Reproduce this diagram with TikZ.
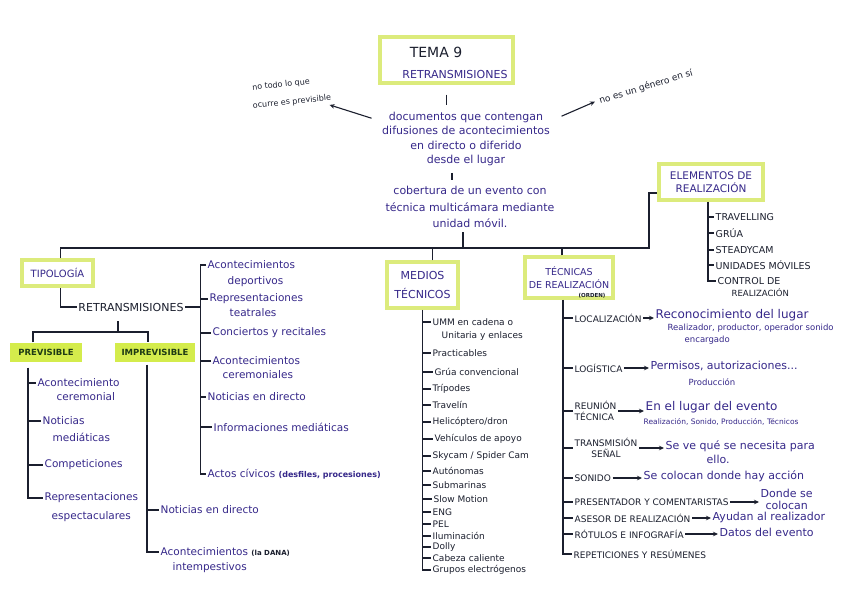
\documentclass[tikz,border=0pt]{standalone}
\usepackage{fontspec}
\setmainfont{DejaVu Sans}
\usetikzlibrary{arrows.meta}
\definecolor{inkc}{HTML}{1B1F2E}
\definecolor{purp}{HTML}{36288A}
\definecolor{hlc}{HTML}{DCEB7C}
\definecolor{hlf}{HTML}{D4EC4C}
\definecolor{dgreen}{HTML}{1E3A14}
\newcommand\fsz[2]{\fontsize{#1}{#2}\selectfont}
\begin{document}
\begin{tikzpicture}[x=1pt,y=-1pt,
  conn/.style={draw=inkc,line width=1.3pt},
  arr/.style={draw=inkc,line width=1.1pt,-{Stealth[length=5pt,width=4.5pt]}},
  hlbox/.style={draw=hlc,line width=3.5pt,fill=white,inner sep=0pt,align=center},
  hlfill/.style={fill=hlf,inner sep=0pt,text=dgreen,font=\fsz{8.5}{10}\bfseries},
  tk/.style={text=inkc,inner sep=1.5pt},
  tp/.style={text=purp,inner sep=1.5pt},
  itm/.style={anchor=west},
  lp/.style={tp,itm,font=\fsz{10.5}{12}},
  lk/.style={tk,itm,font=\fsz{9}{10}},
  lc/.style={tk,itm,font=\fsz{9}{11}},
  ld/.style={tp,itm,font=\fsz{11}{13}},
  ls/.style={tp,itm,font=\fsz{8.5}{10}},
]
\fill[white] (0,0) rectangle (848,599);
\useasboundingbox (0,0) rectangle (848,599);

% ---------- title ----------
\node[hlbox,minimum width=133pt,minimum height=46pt] (tema) at (446.5,60) {};
\node[tk,font=\fsz{14}{16}] (temanum) at (436,52) {TEMA 9};
\node[tp,font=\fsz{11}{13}] (tematit) at (455,74) {RETRANSMISIONES};

\node[tp,align=center,font=\fsz{11}{14.5}] (doc) at (466,139)
  {documentos que contengan\\difusiones de acontecimientos\\en directo o diferido\\desde el lugar};
\node[tp,align=center,font=\fsz{11}{16.5}] (cob) at (470,207)
  {cobertura de un evento con\\técnica multicámara mediante\\unidad móvil.};

\node[tk,rotate=6,font=\fsz{8}{10},inner sep=0pt] (note1a) at (281,85) {no todo lo que};
\node[tk,rotate=6,font=\fsz{8}{10},inner sep=0pt] (note1b) at (292,102) {ocurre es previsible};
\node[tk,rotate=17,font=\fsz{9}{10}] (note2) at (646,87) {no es un género en sí};

\draw[arr] ([shift={(-9pt,-8pt)}]doc.north west) -- ([shift={(-2pt,-3pt)}]note1b.south east);
\draw[arr] ([shift={(10pt,-6pt)}]doc.north east) -- ([xshift=-3pt]note2.west);

\draw[conn,shorten <=10pt,shorten >=5pt] (tema.south) -- (tema.south |- doc.north);
\draw[conn,shorten <=5pt,shorten >=5pt] ([xshift=-14pt]doc.south) -- ([xshift=-14pt]doc.south |- cob.north);

% ---------- main boxes ----------
\node[hlbox,minimum width=71pt,minimum height=26pt,text=purp,font=\fsz{10}{12}] (tipo) at (57.5,273) {TIPOLOGÍA};
\node[hlbox,minimum width=71pt,minimum height=46pt,text=purp,font=\fsz{11}{19}] (med) at (422.5,285) {MEDIOS\\TÉCNICOS};
\node[hlbox,minimum width=88pt,minimum height=41pt,text=purp,font=\fsz{9.5}{13.5}] (tec) at (569,277.5) {TÉCNICAS\\DE REALIZACIÓN};
\node[tk,font=\fsz{5.5}{6}\bfseries] (orden) at (592,296) {(ORDEN)};
\node[hlbox,minimum width=104pt,minimum height=36pt,text=purp,font=\fsz{10.5}{13}] (elem) at (711,182) {ELEMENTOS DE\\REALIZACIÓN};

\coordinate (barR) at (649,248);
\draw[conn] ([xshift=3pt]tipo.north) |- (barR) |- ([yshift=-11pt]elem.west);
\draw[conn,shorten <=3pt] ([xshift=-7pt]cob.south) -- ([xshift=-7pt]cob.south |- barR);
\draw[conn] ([xshift=10pt]med.north) -- ([xshift=10pt]med.north |- barR);
\draw[conn] ([xshift=-7pt]tec.north) -- ([xshift=-7pt]tec.north |- barR);

% ---------- tipologia ----------
\node[tk,font=\fsz{11}{13}] (retr) at (131,307) {RETRANSMISIONES};
\draw[conn] ([xshift=3pt]tipo.south) |- (retr.west);

\node[lp] (r1) at (206,265) {Acontecimientos};
\node[lp] (r1b) at (226,282) {deportivos};
\node[lp] (r2) at (208,299) {Representaciones};
\node[lp] (r2b) at (228,313) {teatrales};
\node[lp] (r3) at (211,333) {Conciertos y recitales};
\node[lp] (r4) at (211,361) {Acontecimientos};
\node[lp] (r4b) at (221,375) {ceremoniales};
\node[lp] (r5) at (206,397) {Noticias en directo};
\node[lp] (r6) at (212,427) {Informaciones mediáticas};
\node[lp] (r7) at (206,474) {Actos cívicos {\fsz{8}{10}\bfseries (desfiles, procesiones)}};

\coordinate (b1) at ([xshift=15pt]retr.east);
\draw[conn] (r1.west) -- (r1.west -| b1) |- (r7.west);
\draw[conn] (retr.east) -- (b1);
\foreach \n in {r2,r3,r4,r5,r6} \draw[conn] (b1 |- \n.west) -- (\n.west);

\node[hlfill,minimum width=72pt,minimum height=19pt] (prev) at (46,352) {PREVISIBLE};
\node[hlfill,minimum width=80pt,minimum height=19pt] (imp) at (155,352) {IMPREVISIBLE};
\coordinate (spl) at (118,332);
\draw[conn] ([xshift=-13pt]prev.north) |- (spl) -| ([xshift=-7pt]imp.north);
\draw[conn,shorten >=8pt] (spl) -- (spl |- retr.south);

\node[lp] (p1) at (36,383) {Acontecimiento};
\node[lp] (p1b) at (55,397) {ceremonial};
\node[lp] (p2) at (41,421) {Noticias};
\node[lp] (p2b) at (51,437) {mediáticas};
\node[lp] (p3) at (43,465) {Competiciones};
\node[lp] (p4) at (43,498) {Representaciones};
\node[lp] (p4b) at (50,517) {espectaculares};
\coordinate (pb) at ([shift={(-18pt,-6pt)}]prev.south);
\draw[conn] (pb) |- (p4.west);
\foreach \n in {p1,p2,p3} \draw[conn] (pb |- \n.west) -- (\n.west);

\node[lp] (i1) at (159,510) {Noticias en directo};
\node[lp] (i2) at (159,552) {Acontecimientos {\fsz{7}{8}\bfseries\color{inkc}(la DANA)}};
\node[lp] (i2b) at (171,568) {intempestivos};
\coordinate (ib) at ([shift={(-8pt,-3pt)}]imp.south);
\draw[conn] (ib) |- (i2.west);
\draw[conn] (ib |- i1.west) -- (i1.west);

% ---------- medios tecnicos ----------
\node[lk] (m1) at (431,322) {UMM en cadena o};
\node[lk] (m1b) at (440,336) {Unitaria y enlaces};
\node[lk] (m2) at (431,353) {Practicables};
\node[lk] (m3) at (433,372) {Grúa convencional};
\node[lk] (m4) at (431,389) {Trípodes};
\node[lk] (m5) at (431,405) {Travelín};
\node[lk] (m6) at (431,422) {Helicóptero/dron};
\node[lk] (m7) at (433,439) {Vehículos de apoyo};
\node[lk] (m8) at (431,456) {Skycam / Spider Cam};
\node[lk] (m9) at (431,471) {Autónomas};
\node[lk] (m10) at (431,485) {Submarinas};
\node[lk] (m11) at (432,499) {Slow Motion};
\node[lk] (m12) at (431,512) {ENG};
\node[lk] (m13) at (431,524) {PEL};
\node[lk] (m14) at (431,536) {Iluminación};
\node[lk] (m15) at (431,547) {Dolly};
\node[lk] (m16) at (431,558) {Cabeza caliente};
\node[lk] (m17) at (431,570) {Grupos electrógenos};
\draw[conn] (med.south) |- (m17.west);
\foreach \n in {m1,m2,m3,m4,m5,m6,m7,m8,m9,m10,m11,m12,m13,m14,m15,m16}
  \draw[conn] (med.south |- \n.west) -- (\n.west);

% ---------- tecnicas de realizacion ----------
\node[lc] (t1) at (573,318) {LOCALIZACIÓN};
\node[tp,itm,font=\fsz{12}{14}] (t1d) at (654,315) {Reconocimiento del lugar};
\node[ls] (t1e) at (666,328) {Realizador, productor, operador sonido};
\node[ls] (t1f) at (683,340) {encargado};
\node[lc] (t2) at (573,368) {LOGÍSTICA};
\node[ld] (t2d) at (649,366) {Permisos, autorizaciones...};
\node[ls] (t2e) at (687,382) {Producción};
\node[lc,align=left] (t3) at (573,411) {REUNIÓN\\TÉCNICA};
\node[tp,itm,font=\fsz{12}{14}] (t3d) at (644,407) {En el lugar del evento};
\node[tp,itm,font=\fsz{7.5}{9}] (t3e) at (642,422) {Realización, Sonido, Producción, Técnicos};
\node[lc,align=center] (t4) at (573,448) {TRANSMISIÓN\\SEÑAL};
\node[ld] (t4d) at (664,446) {Se ve qué se necesita para};
\node[ld] (t4e) at (705,459) {ello.};
\node[lc] (t5) at (573,478) {SONIDO};
\node[ld] (t5d) at (642,476) {Se colocan donde hay acción};
\node[lc] (t6) at (573,502) {PRESENTADOR Y COMENTARISTAS};
\node[ld,align=center,font=\fsz{11}{12}] (t6d) at (759,499) {Donde se\\colocan};
\node[lc] (t7) at (573,518) {ASESOR DE REALIZACIÓN};
\node[ld] (t7d) at (711,517) {Ayudan al realizador};
\node[lc] (t8) at (573,534) {RÓTULOS E INFOGRAFÍA};
\node[ld] (t8d) at (718,532) {Datos del evento};
\node[lc] (t9) at (572,554) {REPETICIONES Y RESÚMENES};
\coordinate (tb) at ([xshift=-6pt]tec.south);
\draw[conn] (tb) |- (t9.west);
\foreach \n in {t1,t2,t3,t4,t5,t6,t7,t8} \draw[conn] (tb |- \n.west) -- (\n.west);
\foreach \n in {t1,t2,t3,t4,t5,t6,t7,t8} \draw[arr] (\n.east) -- (\n.east -| \n d.west);

% ---------- elementos de realizacion ----------
\node[tk,itm,font=\fsz{9.5}{11}] (e1) at (714,217) {TRAVELLING};
\node[tk,itm,font=\fsz{9.5}{11}] (e2) at (714,233) {GRÚA};
\node[tk,itm,font=\fsz{9.5}{11}] (e3) at (714,250) {STEADYCAM};
\node[tk,itm,font=\fsz{9.5}{11}] (e4) at (714,265) {UNIDADES MÓVILES};
\node[tk,itm,font=\fsz{9.5}{11}] (e5) at (716,281) {CONTROL DE};
\node[tk,itm,font=\fsz{8.5}{10}] (e5b) at (730,293) {REALIZACIÓN};
\coordinate (eb) at ([xshift=-3pt]elem.south);
\draw[conn] (eb) |- (e5.west);
\foreach \n in {e1,e2,e3,e4} \draw[conn] (eb |- \n.west) -- (\n.west);
\end{tikzpicture}
\end{document}
